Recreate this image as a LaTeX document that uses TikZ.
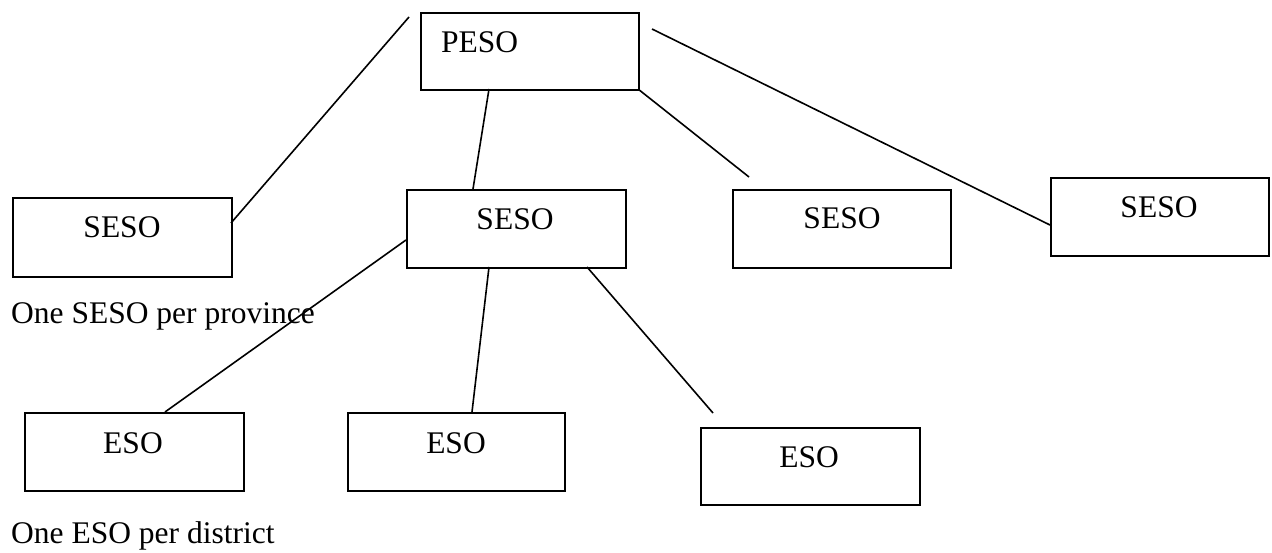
\documentclass[tikz,border=0pt]{standalone}
\usepackage{fontspec}
\setmainfont{Liberation Serif}
\begin{document}
\begin{tikzpicture}[x=1pt,y=-1pt,
  orgbox/.style={draw=black,line width=1.8pt,minimum width=218pt,minimum height=78pt,inner sep=0pt,anchor=north west},
  lbl/.style={inner sep=0pt,font=\fontsize{31.5}{38}\selectfont},
  conn/.style={draw=black,line width=1.6pt}]
\useasboundingbox (0,0) rectangle (1272,553);
% boxes
\node[orgbox,minimum height=77pt] (peso) at (420,12) {};
\node[orgbox,minimum width=219pt,minimum height=79pt] (sesoA) at (12,197) {};
\node[orgbox,minimum width=219pt] (sesoB) at (406,189) {};
\node[orgbox] (sesoC) at (732,189) {};
\node[orgbox] (sesoD) at (1050,177) {};
\node[orgbox,minimum width=219pt] (esoA) at (24,412) {};
\node[orgbox,minimum width=217pt] (esoB) at (347,412) {};
\node[orgbox,minimum width=219pt,minimum height=77pt] (esoC) at (700,427) {};
% texts
\node[lbl,anchor=base west] (pesot) at (441,53) {PESO};
\node[lbl,anchor=base] (sesoAt) at (122,238) {SESO};
\node[lbl,anchor=base] (sesoBt) at (515,230) {SESO};
\node[lbl,anchor=base] (sesoCt) at (842,229) {SESO};
\node[lbl,anchor=base] (sesoDt) at (1159,218) {SESO};
\node[lbl,anchor=base] (esoAt) at (133,453) {ESO};
\node[lbl,anchor=base] (esoBt) at (456,453) {ESO};
\node[lbl,anchor=base] (esoCt) at (809,467) {ESO};
\node[lbl,anchor=base west] (note1) at (11,324) {One SESO per province};
\node[lbl,anchor=base west] (note2) at (11,543) {One ESO per district};
% connector end points
\coordinate (c1a) at (231,223);
\coordinate (c1b) at (409,17);
\coordinate (c2a) at (489,89);
\coordinate (c2b) at (473,189);
\coordinate (c3a) at (638,89);
\coordinate (c3b) at (749,177);
\coordinate (c4a) at (652,29);
\coordinate (c4b) at (1050,225);
\coordinate (c5a) at (406,240);
\coordinate (c5b) at (165,412);
\coordinate (c6a) at (489,267);
\coordinate (c6b) at (472,412);
\coordinate (c7a) at (587,267);
\coordinate (c7b) at (713,413);
% connectors
\draw[conn] (c1a) -- (c1b);
\draw[conn] (c2a) -- (c2b);
\draw[conn] (c3a) -- (c3b);
\draw[conn] (c4a) -- (c4b);
\draw[conn] (c5a) -- (c5b);
\draw[conn] (c6a) -- (c6b);
\draw[conn] (c7a) -- (c7b);
\end{tikzpicture}
\end{document}
